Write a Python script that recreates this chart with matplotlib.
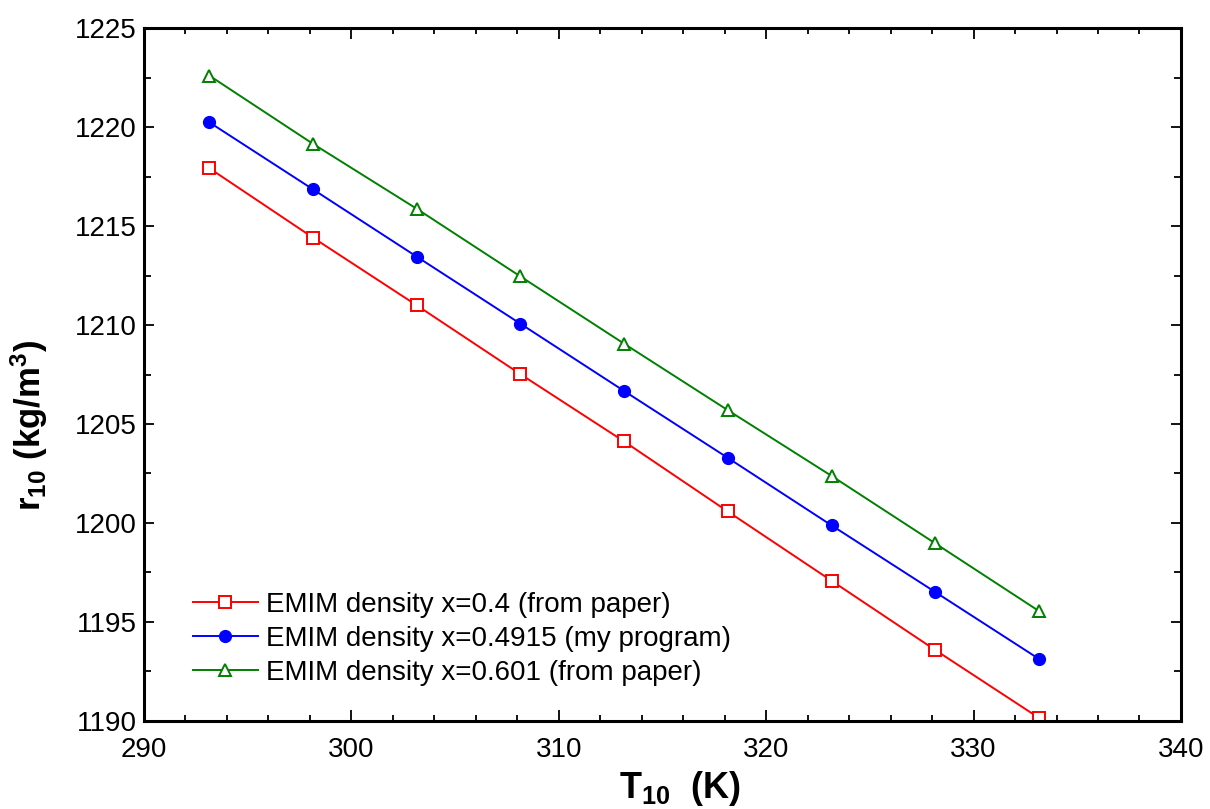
import matplotlib
matplotlib.use("Agg")
import matplotlib.pyplot as plt
from matplotlib.ticker import MultipleLocator

plt.rcParams['font.family'] = ['Liberation Sans', 'DejaVu Sans']
plt.rcParams['mathtext.fontset'] = 'custom'
plt.rcParams['mathtext.rm'] = 'Liberation Sans'
plt.rcParams['mathtext.bf'] = 'Liberation Sans:bold'
plt.rcParams['mathtext.it'] = 'Liberation Sans:italic'

temperature = [293.15, 298.15, 303.15, 308.15, 313.15, 318.15, 323.15, 328.15, 333.15]
rho_x04 = [1217.93, 1214.42, 1211.00, 1207.52, 1204.12, 1200.58, 1197.08, 1193.58, 1190.15]
rho_x04915 = [1220.25, 1216.86, 1213.46, 1210.07, 1206.67, 1203.29, 1199.88, 1196.51, 1193.13]
rho_x0601 = [1222.61, 1219.16, 1215.88, 1212.46, 1209.06, 1205.70, 1202.38, 1198.97, 1195.55]
labels = ["EMIM density x=0.4 (from paper)",
          "EMIM density x=0.4915 (my program)",
          "EMIM density x=0.601 (from paper)"]

fig = plt.figure(figsize=(12.1, 8.09), dpi=100)
ax = fig.add_axes([0.119, 0.109, 0.857, 0.856])

ax.plot(temperature, rho_x04, color='#ff0000', lw=1.4, marker='s', ms=8.5,
        mfc='white', mec='#ff0000', mew=1.4, label=labels[0])
ax.plot(temperature, rho_x04915, color='#0000ff', lw=1.4, marker='o', ms=8.5,
        mfc='#0000ff', mec='#0000ff', label=labels[1])
ax.plot(temperature, rho_x0601, color='#008000', lw=1.4, marker='^', ms=9,
        mfc='white', mec='#008000', mew=1.4, label=labels[2])

ax.set_xlim(290, 340)
ax.set_ylim(1190, 1225)
ax.xaxis.set_major_locator(MultipleLocator(10))
ax.xaxis.set_minor_locator(MultipleLocator(2))
ax.yaxis.set_major_locator(MultipleLocator(5))
ax.yaxis.set_minor_locator(MultipleLocator(2.5))

ax.tick_params(which='both', direction='in', top=True, right=True, width=1.3,
               labelsize=20)
ax.tick_params(axis='x', which='major', length=8, pad=12)
ax.tick_params(axis='x', which='minor', length=4)
ax.tick_params(axis='y', which='major', length=7, pad=5)
ax.tick_params(axis='y', which='minor', length=5)
for s in ax.spines.values():
    s.set_linewidth(2.2)

ax.set_xlabel(r'$\mathbf{T_{10}\ \ (K)}$', fontsize=26)
ax.set_ylabel(r'$\mathbf{r_{10}\ (kg/m^3)}$', fontsize=25)
ax.xaxis.set_label_coords(0.517, -0.07)
ax.yaxis.set_label_coords(-0.091, 0.427)

ax.legend(loc='lower left', bbox_to_anchor=(0.047, 0.05), frameon=False,
          fontsize=20, handlelength=2.35, handletextpad=0.3, labelspacing=0.3,
          borderaxespad=0, borderpad=0)

fig.savefig('out.png', dpi=100)
